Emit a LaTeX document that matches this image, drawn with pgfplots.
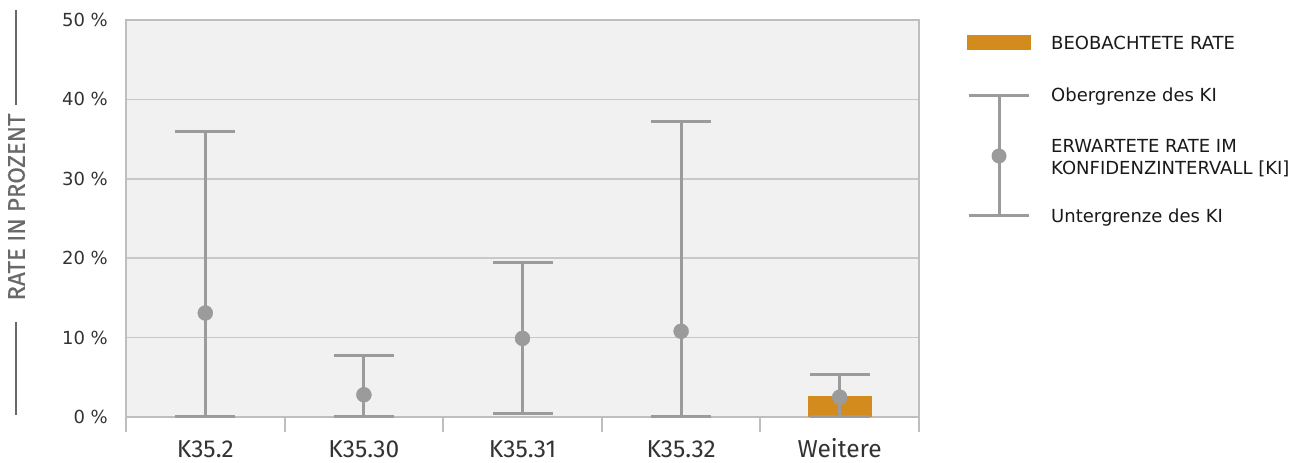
\documentclass[border=0pt]{standalone}
\usepackage{fontspec}
\setmainfont{DejaVu Sans}
\newfontfamily\fira{Fira Sans}
\newfontfamily\firab[FakeBold=0.4]{Fira Sans}
\usepackage{pgfplots}
\pgfplotsset{compat=1.18}
\definecolor{barorange}{RGB}{211,139,30}
\definecolor{errgray}{RGB}{155,155,155}
\definecolor{bgray}{RGB}{241,241,241}
\definecolor{axgray}{RGB}{190,190,190}
\definecolor{gridgray}{RGB}{200,200,200}
\definecolor{txt}{RGB}{51,51,51}
\definecolor{lblgray}{RGB}{105,105,105}
\begin{document}
\begin{tikzpicture}[x=1pt,y=1pt]
\useasboundingbox (0,0) rectangle (1309,463);
\begin{axis}[
  at={(126pt,46pt)}, anchor=south west,
  scale only axis, width=793pt, height=397pt,
  xmin=-0.5, xmax=4.5, ymin=0, ymax=50,
  axis background/.style={fill=bgray},
  axis line style={axgray, line width=2pt},
  xtick={0,...,4}, xticklabels={K35.2,K35.30,K35.31,K35.32,Weitere},
  minor xtick={-0.5,0.5,...,4.5},
  xtick pos=bottom, ytick pos=left,
  major tick length=0pt,
  minor tick length=15pt,
  tick align=outside,
  ytick style={draw=none},
  minor tick style={axgray, line width=2pt},
  xticklabel style={font=\fira\fontsize{24.5}{28}\selectfont, text=txt, anchor=base, inner sep=0pt, yshift=-40pt},
  ytick={0,10,...,50},
  yticklabels={0 \%,10 \%,20 \%,30 \%,40 \%,50 \%},
  yticklabel style={font=\fontsize{18}{22}\selectfont, text=txt, anchor=east, inner sep=0pt, xshift=-18pt},
  ymajorgrids, major grid style={gridgray, line width=1.5pt},
  clip=false,
]
\addplot[ybar, bar width=64pt, bar shift=0pt, fill=barorange, draw=none] coordinates {(4,2.6)};
\addplot[only marks, mark=*, mark size=7.5pt, errgray, mark options={fill=errgray, draw=none},
  error bars/.cd, y dir=both, y explicit,
  error bar style={line width=3pt, errgray},
  error mark options={rotate=90, errgray, line width=3pt, mark size=30pt}]
  coordinates {
  (0,13.1) += (0,22.9) -= (0,13.1)
  (1,2.8) += (0,5.0) -= (0,2.8)
  (2,9.9) += (0,9.5) -= (0,9.5)
  (3,10.8) += (0,26.4) -= (0,10.8)
  (4,2.5) += (0,2.8) -= (0,2.5)
  };
\end{axis}
% y label with side lines
\node[rotate=90, font=\firab\fontsize{24}{28}\selectfont, text=lblgray, inner sep=0pt] at (16.5,256) {RATE IN PROZENT};
\draw[lblgray, line width=2pt] (16,358) -- (16,453);
\draw[lblgray, line width=2pt] (16,48) -- (16,141);
% legend
\fill[barorange] (967,413) rectangle (1031,428);
\draw[errgray, line width=3pt] (999,367) -- (999,247);
\draw[errgray, line width=3pt] (969,367) -- (1029,367);
\draw[errgray, line width=3pt] (969,247) -- (1029,247);
\fill[errgray] (999,307) circle (7.5);
\begin{scope}[every node/.style={anchor=base west, inner sep=0pt, font=\fontsize{18}{22}\selectfont, text=black!90}]
\node at (1051,413.5) {BEOBACHTETE RATE};
\node at (1051,361) {Obergrenze des KI};
\node at (1051,310) {ERWARTETE RATE IM};
\node at (1051,288) {KONFIDENZINTERVALL [KI]};
\node at (1051,240) {Untergrenze des KI};
\end{scope}
\end{tikzpicture}
\end{document}
